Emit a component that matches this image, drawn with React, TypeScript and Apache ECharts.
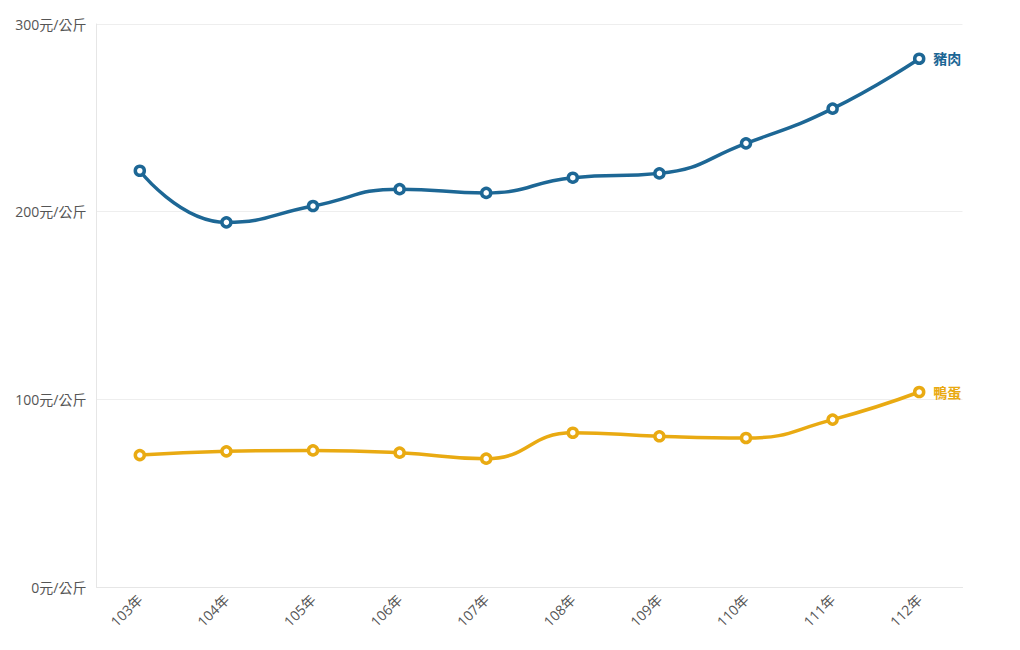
import React, { useEffect, useRef } from "react";
import * as echarts from "echarts";

const categories = ["103年", "104年", "105年", "106年", "107年", "108年", "109年", "110年", "111年", "112年"];
const porkValues = [221.8, 194.3, 203, 212, 210, 218.1, 220.4, 236.4, 254.9, 281.5];
const duckEggValues = [70.3, 72.3, 72.8, 71.6, 68.4, 82.2, 80.3, 79.4, 89.2, 103.9];
const seriesNames = ["豬肉", "鴨蛋"];
const yTicks = [0, 100, 200, 300];

const FONT = "'Open Sans', 'Noto Sans CJK TC', sans-serif";
const colors = ["#1d6795", "#e9aa12"];

export default function App() {
  const ref = useRef<HTMLDivElement>(null);
  useEffect(() => {
    if (!ref.current) return;
    const chart = echarts.init(ref.current, null, { renderer: "svg" });
    const mk = (name: string, data: number[], color: string) => ({
      name,
      type: "line",
      data,
      smooth: true,
      symbol: "circle",
      symbolSize: 9,
      showSymbol: true,
      color,
      lineStyle: { width: 3.5, color },
      itemStyle: { color: "#ffffff", borderColor: color, borderWidth: 3.5 },
      endLabel: {
        show: true,
        formatter: "{a}",
        color,
        fontWeight: "bold",
        fontSize: 14,
        fontFamily: FONT,
        distance: 14,
      },
    });
    chart.setOption({
      animation: false,
      backgroundColor: "#ffffff",
      grid: { left: 96.5, right: 57.5, top: 24, bottom: 63, containLabel: false },
      xAxis: {
        type: "category",
        data: categories,
        boundaryGap: true,
        axisLine: { lineStyle: { color: "#e6e6e6" } },
        axisTick: { alignWithLabel: true, length: 5, lineStyle: { color: "#e6e6e6" } },
        axisLabel: { rotate: 45, color: "#555", fontSize: 14, fontFamily: FONT, margin: 10 },
      },
      yAxis: {
        type: "value",
        min: yTicks[0],
        max: yTicks[yTicks.length - 1],
        interval: 100,
        axisLine: { show: true, lineStyle: { color: "#e6e6e6" } },
        axisTick: { show: false },
        splitLine: { lineStyle: { color: "#eeeeee" } },
        axisLabel: {
          color: "#555",
          fontSize: 14,
          fontFamily: FONT,
          margin: 10,
          formatter: (v: number) => `${v}元/公斤`,
        },
      },
      series: [
        mk(seriesNames[0], porkValues, colors[0]),
        mk(seriesNames[1], duckEggValues, colors[1]),
      ],
    });
    return () => chart.dispose();
  }, []);
  return (
    <div
      ref={ref}
      style={{ position: "absolute", left: 0, top: 0, width: 1020, height: 650 }}
    />
  );
}
